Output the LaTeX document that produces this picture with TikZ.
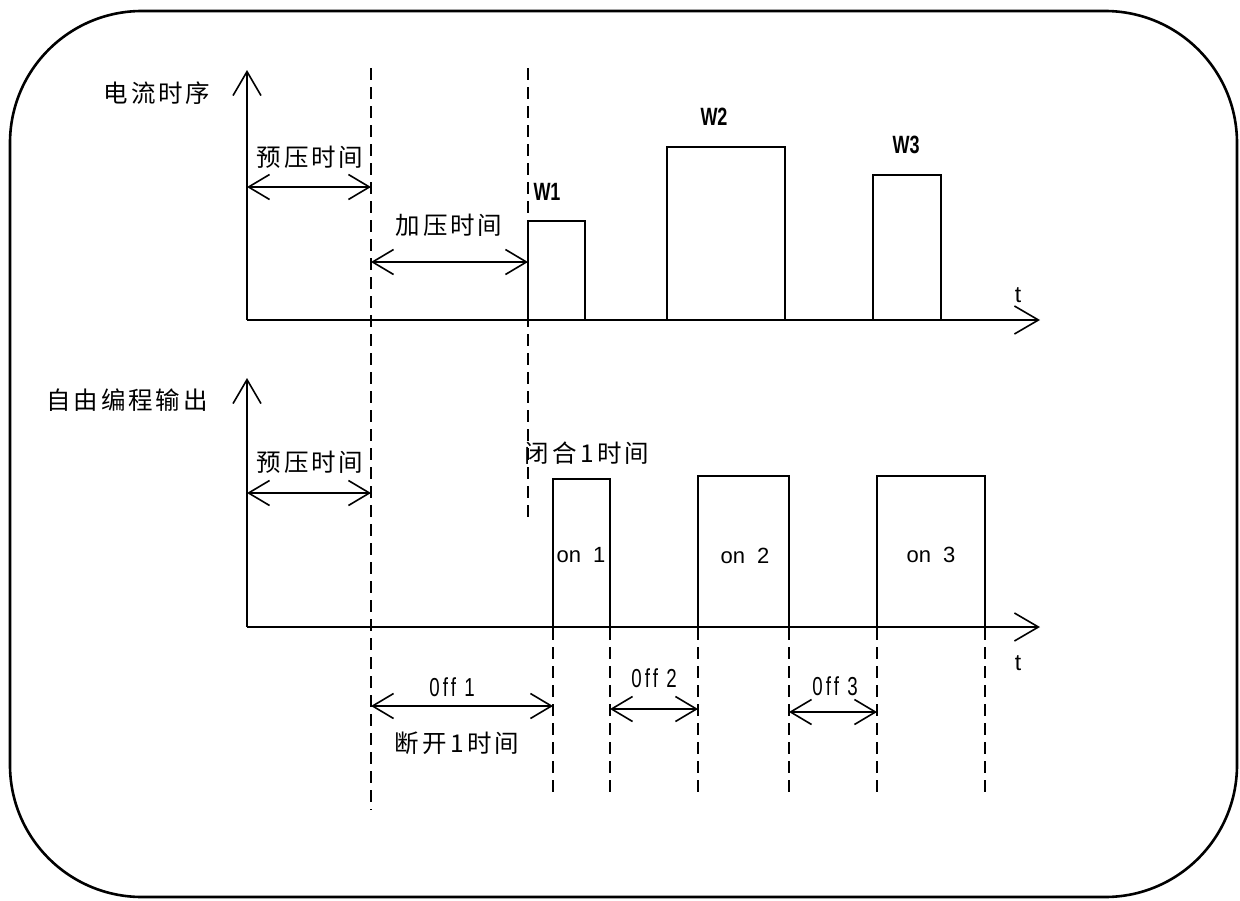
\documentclass[tikz,border=0pt]{standalone}
\usepackage{fontspec}
\usetikzlibrary{arrows.meta}
\setmainfont{Liberation Sans}
\newfontfamily\cjkfont[LetterSpace=12]{Noto Sans CJK SC}
\newfontfamily\narrowfont[FakeStretch=0.72]{Liberation Sans}
\newfontfamily\offfont[FakeStretch=0.72,LetterSpace=12]{Liberation Sans}
\begin{document}
\begin{tikzpicture}[x=1pt,y=-1pt,line width=1.6pt,
  zh/.style={font=\cjkfont\fontsize{24.5}{24.5}\selectfont,inner sep=0pt},
  wlbl/.style={font=\narrowfont\bfseries\fontsize{25}{25}\selectfont,inner sep=0pt},
  offlbl/.style={font=\offfont\fontsize{26}{26}\selectfont,inner sep=0pt},
  tlbl/.style={font=\fontsize{23}{23}\selectfont,inner sep=0pt},
  onlbl/.style={font=\fontsize{22}{22}\selectfont,inner sep=0pt},
  axisline/.style={-{Straight Barb[length=24pt,width=28pt,line width=1.6pt]}},
  dimline/.style={{Straight Barb[length=21pt,width=25pt,line width=1.6pt]}-{Straight Barb[length=21pt,width=25pt,line width=1.6pt]}},
  guide/.style={dash pattern=on 12pt off 7pt,line width=1.5pt},
  pulse/.style={line width=1.6pt},
]
\useasboundingbox (0,0) rectangle (1240,900);
\draw[line width=2.6pt,rounded corners=132pt] (10,11) rectangle (1237,897);

% ---------- top chart ----------
\coordinate (o1) at (247,320);
\coordinate (y1) at (247,70);
\coordinate (x1) at (1040,320);
\draw[axisline] (o1) -- (y1);
\draw[axisline] (o1) -- (x1);
\node[zh] (lab1) at (157,93) {电流时序};
\node[tlbl] (t1) at (1018,295) {t};

% dashed guides
\coordinate (g1a) at (371,68);
\coordinate (g1b) at (371,810);
\coordinate (g2a) at (528,68);
\coordinate (g2b) at (528,520);
\draw[guide] (g1a) -- (g1b);
\draw[guide] (g2a) -- (g2b);

% pre-press
\coordinate (p1a) at (247,187);
\coordinate (p1b) at (371,187);
\draw[dimline] (p1a) -- (p1b);
\node[zh] (pre1) at (310,157) {预压时间};
% pressing
\coordinate (p2a) at (371,262);
\coordinate (p2b) at (528,262);
\draw[dimline] (p2a) -- (p2b);
\node[zh] (press) at (449,225) {加压时间};

% weld pulses
\draw[pulse] (528,320) -- (528,221) -- (585,221) -- (585,320);
\node[wlbl] (w1) at (547,192) {W1};
\draw[pulse] (667,320) -- (667,147) -- (785,147) -- (785,320);
\node[wlbl] (w2) at (714,117) {W2};
\draw[pulse] (873,320) -- (873,175) -- (941,175) -- (941,320);
\node[wlbl] (w3) at (906,145) {W3};

% ---------- bottom chart ----------
\coordinate (o2) at (247,627);
\coordinate (y2) at (247,378);
\coordinate (x2) at (1040,627);
\draw[axisline] (o2) -- (y2);
\draw[axisline] (o2) -- (x2);
\node[zh] (lab2) at (127,400) {自由编程输出};
\node[tlbl] (t2) at (1018,663) {t};

\coordinate (p3a) at (247,493);
\coordinate (p3b) at (371,493);
\draw[dimline] (p3a) -- (p3b);
\node[zh] (pre2) at (310,462) {预压时间};

% output pulses
\draw[pulse] (553,627) -- (553,479) -- (610,479) -- (610,627);
\draw[pulse] (698,627) -- (698,476) -- (789,476) -- (789,627);
\draw[pulse] (877,627) -- (877,476) -- (985,476) -- (985,627);
\node[zh] (close1) at (587,453) {闭合\,1时间};
\node[onlbl] (on1) at (581,555) {on\ \ 1};
\node[onlbl] (on2) at (745,556) {on\ \ 2};
\node[onlbl] (on3) at (931,555) {on\ \ 3};

% lower dashed guides
\foreach \xx/\ee in {553/795,610/797,698/792,789/797,877/795,985/792}{
  \draw[guide] (\xx,628) -- (\xx,\ee);
}

% off intervals
\coordinate (f1a) at (371,706);
\coordinate (f1b) at (553,706);
\draw[dimline] (f1a) -- (f1b);
\node[offlbl] (off1) at (452,687) {0ff 1};
\node[zh] (open1) at (457,743) {断开\,1时间};

\coordinate (f2a) at (610,709);
\coordinate (f2b) at (698,709);
\draw[dimline] (f2a) -- (f2b);
\node[offlbl] (off2) at (654,678) {0ff 2};

\coordinate (f3a) at (789,712);
\coordinate (f3b) at (877,712);
\draw[dimline] (f3a) -- (f3b);
\node[offlbl] (off3) at (835,686) {0ff 3};
\end{tikzpicture}
\end{document}
